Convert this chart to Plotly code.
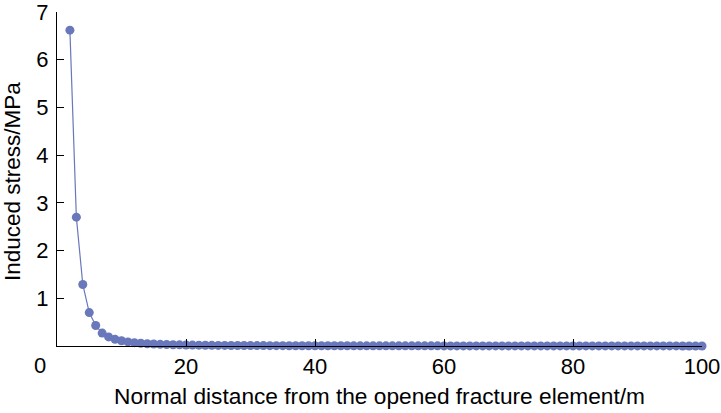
import plotly.graph_objects as go

distance_m = list(range(2, 101))
induced_stress_mpa = [
    6.62, 2.70, 1.29, 0.70, 0.43, 0.27, 0.19, 0.14, 0.11, 0.085,
    0.070, 0.057, 0.048, 0.041, 0.035, 0.031, 0.027, 0.024, 0.021, 0.019,
    0.017, 0.016, 0.014, 0.013, 0.012, 0.011, 0.010, 0.0095, 0.0090, 0.0085,
    0.0080, 0.0075, 0.0071, 0.0067, 0.0063, 0.0060, 0.0057, 0.0054, 0.0052, 0.0050,
    0.0048, 0.0046, 0.0044, 0.0042, 0.0040, 0.0039, 0.0037, 0.0036, 0.0035, 0.0034,
    0.0033, 0.0032, 0.0031, 0.0030, 0.0029, 0.0028, 0.0027, 0.0027, 0.0026, 0.0025,
    0.0025, 0.0024, 0.0023, 0.0023, 0.0022, 0.0022, 0.0021, 0.0021, 0.0020, 0.0020,
    0.0019, 0.0019, 0.0018, 0.0018, 0.0018, 0.0017, 0.0017, 0.0016, 0.0016, 0.0016,
    0.0015, 0.0015, 0.0015, 0.0015, 0.0014, 0.0014, 0.0014, 0.0013, 0.0013, 0.0013,
    0.0013, 0.0012, 0.0012, 0.0012, 0.0012, 0.0011, 0.0011, 0.0011, 0.0011,
]
x_ticks = [20, 40, 60, 80, 100]
y_ticks = [1, 2, 3, 4, 5, 6, 7]

color = "#6878ba"
font = "Liberation Sans, Arial, sans-serif"

fig = go.Figure(
    go.Scatter(
        x=distance_m,
        y=induced_stress_mpa,
        mode="lines+markers",
        line=dict(color=color, width=1.2),
        marker=dict(color=color, size=9),
        cliponaxis=False,
    )
)

fig.update_layout(
    width=721,
    height=413,
    margin=dict(l=57, r=19, t=12, b=67),
    paper_bgcolor="white",
    plot_bgcolor="white",
    showlegend=False,
    font=dict(family=font, size=22, color="black"),
)

fig.update_xaxes(
    range=[0, 100],
    tickvals=x_ticks,
    ticks="inside",
    ticklen=7,
    tickcolor="black",
    showline=True,
    linecolor="black",
    linewidth=1.2,
    showgrid=False,
    zeroline=False,
    tickfont=dict(size=22),
    title=dict(text="Normal distance from the opened fracture element/m", font=dict(size=22.7), standoff=10),
    automargin=False,
)
fig.update_yaxes(
    range=[0, 7],
    tickvals=y_ticks,
    ticks="inside",
    ticklen=7,
    tickcolor="black",
    showline=True,
    linecolor="black",
    linewidth=1.2,
    showgrid=False,
    zeroline=False,
    tickfont=dict(size=22),
    ticklabelstandoff=3,
    ticklabeloverflow="allow",
    automargin=False,
)

fig.add_annotation(
    x=0, y=0.5, xref="paper", yref="paper",
    text="Induced stress/MPa", showarrow=False, textangle=-90,
    xanchor="center", yanchor="middle",
    xshift=-45, yshift=-3,
    font=dict(family=font, size=22.5, color="black"),
)

fig.add_annotation(
    x=0, y=0, xref="paper", yref="paper",
    text="0", showarrow=False,
    xanchor="right", yanchor="top",
    xshift=-9, yshift=-5,
    font=dict(family=font, size=22, color="black"),
)

fig.write_html(
    "out.html",
    config={"displayModeBar": False},
    post_script="document.body.style.margin='0';document.body.style.overflow='hidden';",
)
